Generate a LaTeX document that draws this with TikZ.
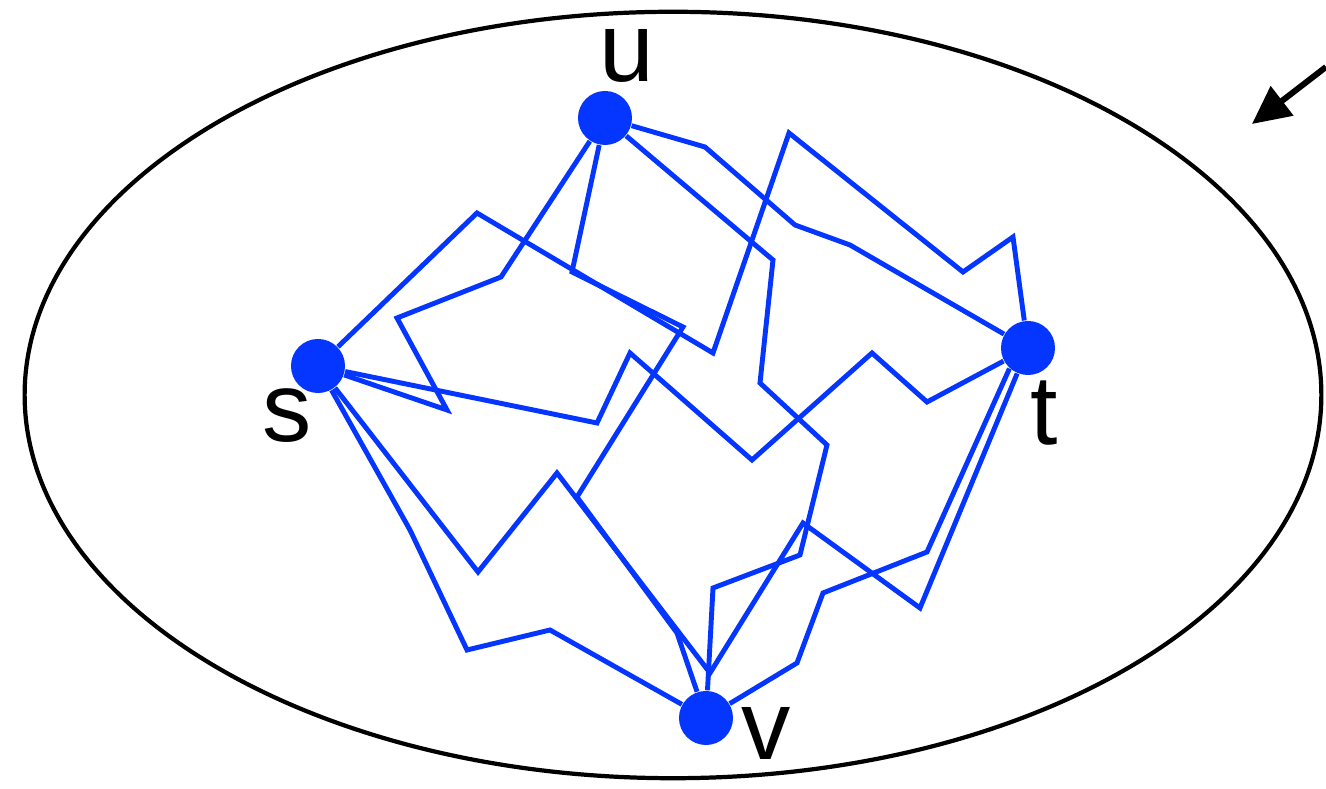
\documentclass[tikz,border=0pt]{standalone}
\usepackage{fontspec}
\setmainfont{Liberation Sans}
\usetikzlibrary{arrows.meta}
\definecolor{walkblue}{HTML}{0436FF}

\begin{document}
\begin{tikzpicture}[x=0.01cm, y=-0.01cm,
  vertex/.style={circle, fill=walkblue, minimum size=5.4mm, inner sep=0pt},
  lbl/.style={anchor=base, font=\fontsize{28}{32}\selectfont},
  walk/.style={draw=walkblue, line width=1.4pt, line join=miter},
  pointer/.style={-{Triangle[length=3.8mm, width=3.6mm]}, line width=1.7pt}
]
  \useasboundingbox (0,0) rectangle (1326,789);

  % the region
  \draw[line width=1.2pt] (673,395) ellipse [x radius=6.48cm, y radius=3.83cm];
  \coordinate (far) at (1326,67);
  \coordinate (tip) at (1252,124);
  \draw[pointer] (far) -- (tip);

  % vertices
  \node[vertex] (u) at (605,118) {};
  \node[vertex] (s) at (318,366) {};
  \node[vertex] (t) at (1028,348) {};
  \node[vertex] (v) at (706,718) {};

  \node[lbl] (ul) at (627,82) {u};
  \node[lbl] (sl) at (287,442) {s};
  \node[lbl] (tl) at (1044,445) {t};
  \node[lbl] (vl) at (766,760) {v};

  % walks between the vertices
  \draw[walk] (u) -- (501,277) -- (397,318) -- (447,410) -- (s);
  \draw[walk] (u) -- (572,272) -- (683,327) -- (577,497) -- (677,633) -- (v);
  \draw[walk] (u) -- (773,260) -- (760,383) -- (827,445) -- (800,555) -- (713,588) -- (v);
  \draw[walk] (u) -- (705,147) -- (795,225) -- (850,245) -- (t);
  \draw[walk] (s) -- (477,213) -- (713,353) -- (789,133) -- (963,272) -- (1013,237) -- (t);
  \draw[walk] (s) -- (597,423) -- (630,353) -- (752,460) -- (872,353) -- (927,402) -- (t);
  \draw[walk] (s) -- (478,572) -- (557,473) -- (710,673) -- (803,523) -- (920,608) -- (t.247);
  \draw[walk] (s) -- (410,530) -- (467,650) -- (550,630) -- (v);
  \draw[walk] (t.228) -- (927,552) -- (823,593) -- (797,663) -- (v);

\end{tikzpicture}
\end{document}
